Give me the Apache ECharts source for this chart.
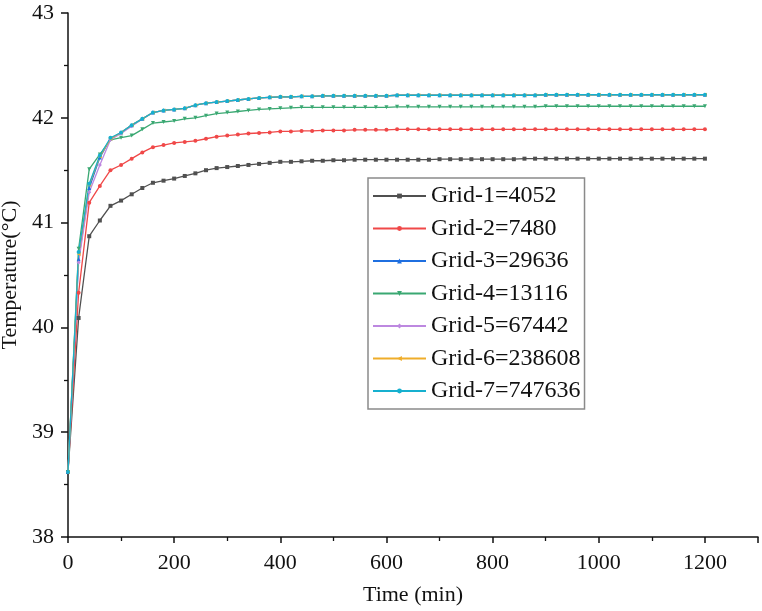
<!DOCTYPE html>
<html lang="en">
<head>
    <meta charset="UTF-8">
    <title>Grid independence</title>
    <script src="https://cdn.jsdelivr.net/npm/echarts@6/dist/echarts.min.js"></script>
</head>
<body style="margin:0;background:#fff;">
<div id="chart" style="width:762px;height:611px;"></div>
<script type="text/javascript">
    // time axis, one point every 20 min
    var times = [0, 20, 40, 60, 80, 100, 120, 140, 160, 180, 200, 220, 240, 260, 280, 300, 320, 340, 360, 380,
        400, 420, 440, 460, 480, 500, 520, 540, 560, 580, 600, 620, 640, 660, 680, 700, 720, 740, 760, 780,
        800, 820, 840, 860, 880, 900, 920, 940, 960, 980, 1000, 1020, 1040, 1060, 1080, 1100, 1120, 1140, 1160, 1180, 1200];

    var grid1 = [38.62, 40.09, 40.87, 41.02, 41.16, 41.21, 41.27, 41.33, 41.38, 41.40, 41.42, 41.445, 41.47, 41.50, 41.52, 41.53, 41.54, 41.55, 41.56, 41.57,
        41.58, 41.58, 41.585, 41.59, 41.59, 41.595, 41.595, 41.60, 41.60, 41.60, 41.60, 41.60, 41.60, 41.60, 41.60, 41.605, 41.605, 41.605, 41.605, 41.605,
        41.605, 41.605, 41.605, 41.61, 41.61, 41.61, 41.61, 41.61, 41.61, 41.61, 41.61, 41.61, 41.61, 41.61, 41.61, 41.61, 41.61, 41.61, 41.61, 41.61, 41.61];
    var grid2 = [38.62, 40.33, 41.19, 41.35, 41.50, 41.55, 41.61, 41.67, 41.72, 41.74, 41.76, 41.77, 41.78, 41.80, 41.82, 41.83, 41.84, 41.85, 41.855, 41.86,
        41.87, 41.87, 41.875, 41.875, 41.88, 41.88, 41.88, 41.885, 41.885, 41.885, 41.885, 41.89, 41.89, 41.89, 41.89, 41.89, 41.89, 41.89, 41.89, 41.89,
        41.89, 41.89, 41.89, 41.89, 41.89, 41.89, 41.89, 41.89, 41.89, 41.89, 41.89, 41.89, 41.89, 41.89, 41.89, 41.89, 41.89, 41.89, 41.89, 41.89, 41.89];
    var grid3 = [38.62, 40.65, 41.33, 41.62, 41.80, 41.86, 41.93, 41.99, 42.05, 42.07, 42.08, 42.09, 42.12, 42.14, 42.15, 42.16, 42.17, 42.18, 42.19, 42.195,
        42.20, 42.20, 42.205, 42.205, 42.21, 42.21, 42.21, 42.21, 42.21, 42.21, 42.21, 42.215, 42.215, 42.215, 42.215, 42.215, 42.215, 42.215, 42.215, 42.215,
        42.215, 42.215, 42.215, 42.215, 42.215, 42.22, 42.22, 42.22, 42.22, 42.22, 42.22, 42.22, 42.22, 42.22, 42.22, 42.22, 42.22, 42.22, 42.22, 42.22, 42.22];
    var grid4 = [38.62, 40.75, 41.51, 41.65, 41.79, 41.81, 41.83, 41.89, 41.95, 41.96, 41.97, 41.99, 42.00, 42.02, 42.04, 42.05, 42.06, 42.07, 42.08, 42.085,
        42.09, 42.095, 42.10, 42.10, 42.10, 42.10, 42.10, 42.10, 42.10, 42.10, 42.10, 42.105, 42.105, 42.105, 42.105, 42.105, 42.105, 42.105, 42.105, 42.105,
        42.105, 42.105, 42.105, 42.105, 42.105, 42.11, 42.11, 42.11, 42.11, 42.11, 42.11, 42.11, 42.11, 42.11, 42.11, 42.11, 42.11, 42.11, 42.11, 42.11, 42.11];
    var grid5 = [38.62, 40.62, 41.29, 41.55, 41.79, 41.85, 41.92, 41.99, 42.05, 42.07, 42.08, 42.09, 42.12, 42.14, 42.15, 42.16, 42.17, 42.18, 42.19, 42.195,
        42.20, 42.20, 42.205, 42.205, 42.21, 42.21, 42.21, 42.21, 42.21, 42.21, 42.21, 42.215, 42.215, 42.215, 42.215, 42.215, 42.215, 42.215, 42.215, 42.215,
        42.215, 42.215, 42.215, 42.215, 42.215, 42.22, 42.22, 42.22, 42.22, 42.22, 42.22, 42.22, 42.22, 42.22, 42.22, 42.22, 42.22, 42.22, 42.22, 42.22, 42.22];
    var grid6 = [38.62, 40.70, 41.36, 41.63, 41.80, 41.86, 41.93, 41.99, 42.05, 42.07, 42.08, 42.09, 42.12, 42.14, 42.15, 42.16, 42.17, 42.18, 42.19, 42.195,
        42.20, 42.20, 42.205, 42.205, 42.21, 42.21, 42.21, 42.21, 42.21, 42.21, 42.21, 42.215, 42.215, 42.215, 42.215, 42.215, 42.215, 42.215, 42.215, 42.215,
        42.215, 42.215, 42.215, 42.215, 42.215, 42.22, 42.22, 42.22, 42.22, 42.22, 42.22, 42.22, 42.22, 42.22, 42.22, 42.22, 42.22, 42.22, 42.22, 42.22, 42.22];
    var grid7 = [38.62, 40.72, 41.37, 41.64, 41.81, 41.86, 41.93, 41.99, 42.05, 42.07, 42.08, 42.09, 42.12, 42.14, 42.15, 42.16, 42.17, 42.18, 42.19, 42.195,
        42.20, 42.20, 42.205, 42.205, 42.21, 42.21, 42.21, 42.21, 42.21, 42.21, 42.21, 42.215, 42.215, 42.215, 42.215, 42.215, 42.215, 42.215, 42.215, 42.215,
        42.215, 42.215, 42.215, 42.215, 42.215, 42.22, 42.22, 42.22, 42.22, 42.22, 42.22, 42.22, 42.22, 42.22, 42.22, 42.22, 42.22, 42.22, 42.22, 42.22, 42.22];

    var names = ['Grid-1=4052', 'Grid-2=7480', 'Grid-3=29636', 'Grid-4=13116', 'Grid-5=67442', 'Grid-6=238608', 'Grid-7=747636'];
    var colors = ['#505050', '#f04848', '#1f6fe0', '#3aa872', '#bd88e0', '#efad2a', '#16b0cf'];
    var symbols = ['rect', 'circle', 'triangle', 'triangle', 'diamond', 'triangle', 'circle'];
    var rotates = [0, 0, 0, 180, 0, 90, 0];
    var values = [grid1, grid2, grid3, grid4, grid5, grid6, grid7];

    var font = '"Liberation Serif", "Times New Roman", serif';

    // 组装 series
    var series = [];
    for (var i = 0; i < names.length; i++) {
        var pts = [];
        for (var j = 0; j < times.length; j++) {
            pts.push([times[j], values[i][j]]);
        }
        series.push({
            name: names[i],
            type: 'line',
            data: pts,
            symbol: symbols[i],
            symbolRotate: rotates[i],
            symbolSize: 4,
            lineStyle: {width: 1.3},
            itemStyle: {color: colors[i]},
            emphasis: {disabled: true}
        });
    }

    var myChart = echarts.init(document.getElementById('chart'));
    var option = {
        animation: false,
        color: colors,
        grid: {
            left: 68,
            right: 4,
            top: 13,
            bottom: 74,
            outerBoundsMode: 'none',
            containLabel: false
        },
        legend: {
            orient: 'vertical',
            left: 368,
            top: 178,
            itemWidth: 53,
            itemHeight: 6,
            itemGap: 8.5,
            padding: [6, 4, 6, 4],
            borderColor: '#8a8a8a',
            borderWidth: 1.5,
            textStyle: {
                fontFamily: font,
                fontSize: 24,
                lineHeight: 24,
                color: '#111'
            },
            data: names
        },
        xAxis: {
            type: 'value',
            min: 0,
            max: 1300,
            interval: 200,
            name: 'Time (min)',
            nameLocation: 'middle',
            nameGap: 47,
            nameTextStyle: {fontFamily: font, fontSize: 22, color: '#111'},
            axisLine: {onZero: false, lineStyle: {color: '#111', width: 1.5}},
            axisTick: {length: 6, lineStyle: {color: '#111', width: 1.5}},
            minorTick: {show: true, splitNumber: 2, length: 4, lineStyle: {color: '#111', width: 1.3}},
            axisLabel: {
                fontFamily: font, fontSize: 22, color: '#111', margin: 15, showMaxLabel: false,
                formatter: function (v) { return String(v); }
            },
            splitLine: {show: false}
        },
        yAxis: {
            type: 'value',
            min: 38,
            max: 43,
            interval: 1,
            name: 'Temperature(°C)',
            nameLocation: 'middle',
            nameGap: 44,
            nameTextStyle: {fontFamily: font, fontSize: 22, color: '#111'},
            axisLine: {show: true, lineStyle: {color: '#111', width: 1.5}},
            axisTick: {show: true, length: 7, lineStyle: {color: '#111', width: 1.5}},
            minorTick: {show: true, splitNumber: 2, length: 4, lineStyle: {color: '#111', width: 1.3}},
            axisLabel: {fontFamily: font, fontSize: 22, color: '#111', margin: 14},
            splitLine: {show: false}
        },
        series: series
    };
    myChart.setOption(option, true);
</script>
</body>
</html>
